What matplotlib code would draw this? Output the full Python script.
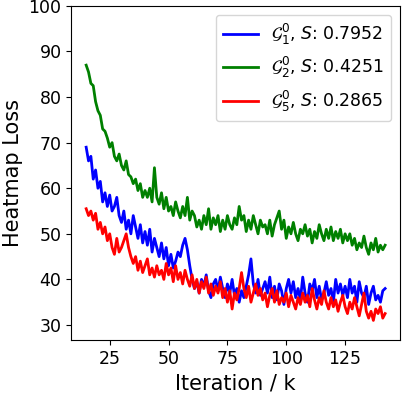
import matplotlib
matplotlib.use("Agg")
import matplotlib.pyplot as plt
import numpy as np

iters = np.arange(15, 143)

# G_1^0, S: 0.7952
loss_g1 = [69, 66, 67, 62, 64, 60, 61.5, 57, 59, 56, 58.5, 55, 56, 58, 54, 52.5, 55, 51, 53, 50,
           54, 51.5, 49, 52, 48, 50.5, 47.5, 51, 46, 49, 47, 45, 48, 44.5, 47, 43, 45.5, 42.5, 44, 46,
           45, 47.5, 49, 46.5, 43, 40, 38, 39.5, 37, 40, 38.5, 41, 37.5, 36, 39, 40, 37.5, 40.5, 38, 36,
           39, 37, 40, 36.5, 38, 35, 37.5, 36, 38.5, 41, 44.5, 39, 37, 40, 36.5, 38, 39.5, 37, 40.5, 36,
           38.5, 35.5, 39, 37.5, 34.5, 38, 40, 37, 39.5, 36, 38, 35.5, 40.5, 37, 35, 39, 37.5, 40, 36, 38.5,
           35.5, 37, 39.5, 36.5, 38, 35, 40, 37, 39, 36.5, 38.5, 36, 40, 37, 38.5, 35, 39.5, 37, 36, 38.5,
           34.5, 37, 38.5, 35.5, 36.5, 35, 37.5, 38]

# G_2^0, S: 0.4251
loss_g2 = [87, 85.5, 83, 82.5, 79, 77, 76, 73, 72.5, 71, 69, 70, 67, 66, 67.5, 65, 64, 66, 63, 62.5,
           61, 62, 59.5, 61, 58, 59.5, 58, 60, 57, 64.5, 58, 56.5, 59, 55.5, 58, 55, 56, 54, 57, 55,
           53.5, 56, 54, 58, 53, 55, 54, 51.5, 53, 51, 54, 52, 55.5, 51, 53.5, 52, 54, 50.5, 53, 51,
           54, 52, 51, 53.5, 52, 56, 53, 54, 50.5, 53, 51, 54, 52, 50, 53, 51.5, 52, 50, 53, 49.5,
           52, 53.5, 55, 51, 53, 49, 51.5, 50, 52.5, 50, 48.5, 51, 50, 52, 49.5, 51, 48, 50.5, 49, 52,
           50, 48.5, 51, 49, 51.5, 48.5, 50.5, 49, 51, 48, 50, 48.5, 50, 47.5, 49, 46.5, 48, 47, 49.5, 47,
           45.5, 48, 46.5, 49, 46, 47.5, 46.5, 47.5]

# G_5^0, S: 0.2865
loss_g5 = [55.5, 54, 55, 53, 54.5, 51, 52.5, 50, 51.5, 48.5, 50, 47, 45.5, 49, 46, 47, 48.5, 50, 47, 45,
           43.5, 45, 42, 44, 41.5, 43, 44.5, 41, 42.5, 40.5, 43, 41, 42, 40, 43.5, 41, 42.5, 39.5, 43, 40,
           41.5, 39, 42, 40, 38.5, 41, 38, 40, 37, 39.5, 38, 40.5, 37, 39, 36.5, 38.5, 37, 39.5, 36, 38,
           35, 37.5, 33.5, 37, 35.5, 38, 41.5, 38, 36, 38.5, 35, 37, 39, 36.5, 38, 35.5, 37, 34, 36.5, 38,
           35, 37.5, 34.5, 36, 35, 37, 34, 36.5, 35, 33.5, 36, 34.5, 37, 35, 36.5, 34, 38, 35.5, 33.5, 36,
           34.5, 37.5, 35, 33.5, 36, 34, 35.5, 33, 35, 36.5, 34, 32.5, 35, 33.5, 36, 34, 32, 34.5, 37, 33,
           31.5, 33, 31, 33.5, 32.5, 34, 31.5, 32.5]

labels = [r'$\mathcal{G}_1^0$, $S$: 0.7952',
          r'$\mathcal{G}_2^0$, $S$: 0.4251',
          r'$\mathcal{G}_5^0$, $S$: 0.2865']

fig = plt.figure(figsize=(4.07, 3.94), dpi=100)
ax = fig.add_axes([0.175, 0.137, 0.808, 0.848])
ax.plot(iters, loss_g1, color='blue', lw=2, label=labels[0])
ax.plot(iters, loss_g2, color='green', lw=2, label=labels[1])
ax.plot(iters, loss_g5, color='red', lw=2, label=labels[2])
ax.set_ylim(26.7, 100)
ax.set_xticks([25, 50, 75, 100, 125])
ax.set_yticks([30, 40, 50, 60, 70, 80, 90, 100])
ax.tick_params(labelsize=12.5)
ax.set_xlabel('Iteration / k', fontsize=15)
ax.set_ylabel('Heatmap Loss', fontsize=15)
ax.legend(loc='upper right', fontsize=12.5)
fig.savefig('out.png', dpi=100)
